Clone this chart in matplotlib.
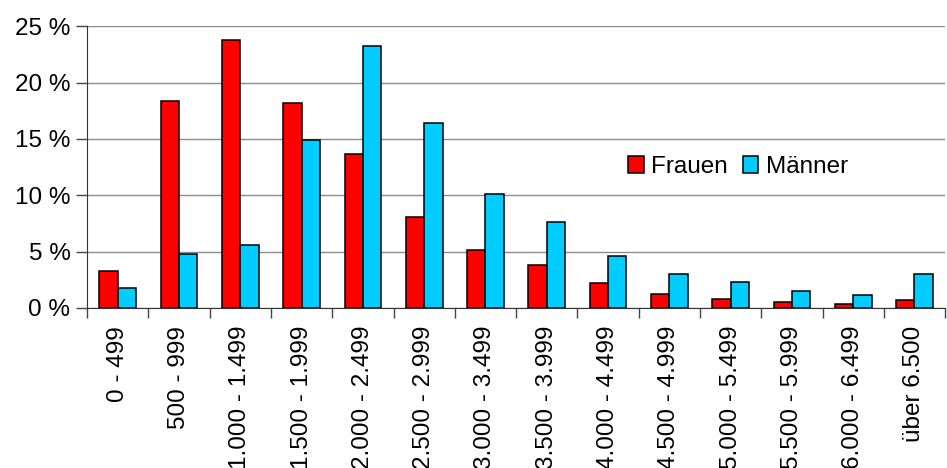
import numpy as np
from matplotlib import pyplot as plt

plt.rcParams['font.family'] = ['Liberation Sans', 'DejaVu Sans']

kategorien = ["0 - 499", "500 - 999", "1.000 - 1.499", "1.500 - 1.999", "2.000 - 2.499",
              "2.500 - 2.999", "3.000 - 3.499", "3.500 - 3.999", "4.000 - 4.499",
              "4.500 - 4.999", "5.000 - 5.499", "5.500 - 5.999", "6.000 - 6.499", "über 6.500"]
frauen = [3.3, 18.4, 23.8, 18.2, 13.7, 8.1, 5.1, 3.8, 2.2, 1.2, 0.8, 0.5, 0.35, 0.7]
maenner = [1.8, 4.8, 5.6, 14.9, 23.2, 16.4, 10.1, 7.6, 4.6, 3.0, 2.3, 1.5, 1.15, 3.0]
y_ticks = [0, 5, 10, 15, 20, 25]

fig = plt.figure(figsize=(9.47, 4.68), dpi=100)
ax = fig.add_axes([0.092, 0.342, 0.906, 0.602])

x = np.arange(len(kategorien))
w = 0.3
ax.bar(x - w / 2, frauen, w, color="#FF0000", edgecolor="black", linewidth=1.1, label="Frauen", zorder=3)
ax.bar(x + w / 2, maenner, w, color="#00CCFF", edgecolor="black", linewidth=1.1, label="Männer", zorder=3)

ax.set_xlim(-0.5, len(kategorien) - 0.5)
ax.set_ylim(0, 25)
ax.set_yticks(y_ticks)
ax.set_yticklabels(["{} %".format(v) for v in y_ticks], fontsize=17.5)
ax.yaxis.grid(True, color="#8c8c8c", linewidth=1, zorder=0)

# ticks between categories, labels at centers
ax.set_xticks(np.arange(len(kategorien) + 1) - 0.5)
ax.set_xticklabels([])
ax.set_xticks(x, minor=True)
ax.set_xticklabels(kategorien, minor=True, rotation=90, fontsize=17.5)
ax.tick_params(axis="x", which="minor", length=0, pad=13)
ax.tick_params(axis="x", which="major", length=7, width=1, color="#444444")
ax.tick_params(axis="y", length=8, width=1, color="#444444", pad=4)

ax.spines["top"].set_visible(False)
ax.spines["right"].set_visible(False)
ax.spines["left"].set_color("#333333")
ax.spines["bottom"].set_color("#333333")

ax.legend(loc="center left", bbox_to_anchor=(0.605, 0.5), ncol=2, frameon=False, fontsize=17.5,
          handlelength=0.65, handleheight=0.65, handletextpad=0.3, columnspacing=0.6)

fig.savefig("out.png", dpi=100)
